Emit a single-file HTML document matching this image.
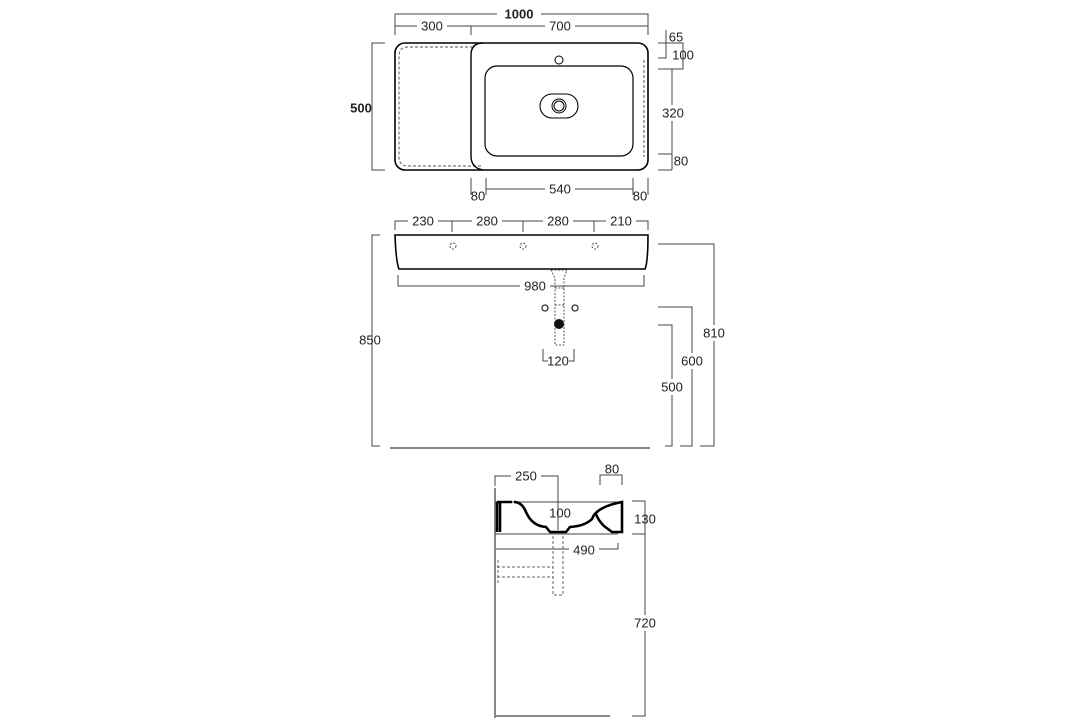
<!DOCTYPE html>
<html><head><meta charset="utf-8"><style>
html,body{margin:0;padding:0;background:#fff;}
svg{display:block;}
text{font-family:"Liberation Sans",sans-serif;font-size:13px;fill:#222;}
</style></head><body>
<svg width="1087" height="725" viewBox="0 0 1087 725" xmlns="http://www.w3.org/2000/svg">
<g fill="none" stroke="#444" stroke-width="1">
<path d="M395,26 V14 H648 V26"/>
<path d="M395,35 V26 H648 V35 M471,26 V35"/>
<path d="M385,43 H372 V170 H385"/>
<path d="M666,30 V58 H658 M658,43 H683 V69 H658"/>
<path d="M672,69 V170 M658,154 H672 M658,170 H672"/>
<path d="M471,178 V195 M486,178 V195 M633,178 V195 M648,178 V195 M486,189 H633"/>
<path d="M395,230 V221 H648 V230 M452,221 V232 M523,221 V232 M594,221 V232"/>
<path d="M398,275 V286 H644 V275"/>
<path d="M380,235 H372 V446 H380"/>
<path d="M658,244 H714 V446 H700"/>
<path d="M658,307 H692 V446 H680"/>
<path d="M658,325 H672 V446 H665"/>
<path d="M543,349 V361 H548 M574,349 V361 H569"/>
<path d="M495,486 V476 H558 V530"/>
<path d="M600,485 V475 H622 V485"/>
<path d="M632,501 H645 V534 H632"/>
<path d="M645,534 V716 H632"/>
<path d="M495,543 V549 H618 V543"/>
</g>
<rect x="395" y="43" width="253" height="127" rx="10" fill="none" stroke="#000" stroke-width="1.6"/>
<path d="M481,166 H408 Q399,166 399,157 V56 Q399,47 408,47 H472" fill="none" stroke="#555" stroke-width="1" stroke-dasharray="3,2"/>
<path d="M644,60 V157" fill="none" stroke="#555" stroke-width="1" stroke-dasharray="3,2"/>
<path d="M483,170 Q471,168 471,156 V55 Q471,43 483,43" fill="none" stroke="#000" stroke-width="1.4"/>
<rect x="485" y="66" width="148" height="90" rx="12" fill="none" stroke="#000" stroke-width="1.2"/>
<rect x="540" y="94" width="38" height="24" rx="12" fill="none" stroke="#000" stroke-width="1.1"/>
<circle cx="559" cy="106" r="7" fill="none" stroke="#000" stroke-width="1"/>
<circle cx="559" cy="106" r="5" fill="none" stroke="#000" stroke-width="1"/>
<circle cx="559" cy="60" r="4" fill="none" stroke="#000" stroke-width="1"/>
<path d="M395,235 H648 Q648,262 645,269 H399 Q396,262 395,235 Z" fill="none" stroke="#000" stroke-width="1.6"/>
<g fill="none" stroke="#555" stroke-width="1" stroke-dasharray="2,1.5">
<circle cx="453" cy="246" r="3"/><circle cx="523" cy="246" r="3"/><circle cx="595" cy="246" r="3"/>
<path d="M551,270 H567 L564,278 V345 H555 V278 Z M555,288 H564 M555,305 H564"/>
</g>
<circle cx="545" cy="308" r="3" fill="none" stroke="#333" stroke-width="1.3"/>
<circle cx="575" cy="308" r="3" fill="none" stroke="#333" stroke-width="1.3"/>
<circle cx="559" cy="324" r="5" fill="#111"/>
<line x1="390" y1="448" x2="650" y2="448" stroke="#888" stroke-width="2"/>
<line x1="495" y1="488" x2="495" y2="718" stroke="#888" stroke-width="2"/>
<line x1="495" y1="716" x2="610" y2="716" stroke="#888" stroke-width="2"/>
<path d="M495,502 H622" fill="none" stroke="#444" stroke-width="1"/>
<path d="M495,534 H618" fill="none" stroke="#444" stroke-width="1"/>
<path d="M497,502 V532 M500,502 V532 M497,502 H512 M514,502 Q522,502 526,512 Q532,526 546,527 L550,532 H566 L570,527 Q585,526 592,519 Q596,507 622,502 V532 H612 L604,526 Q598,520 596,514" fill="none" stroke="#000" stroke-width="2.6"/>
<g fill="none" stroke="#666" stroke-width="1" stroke-dasharray="3,2">
<path d="M553,536 V595 H563 V536"/>
<path d="M497,567 H553 M497,577 H553 M498,560 V585"/>
</g>
<g text-anchor="middle" dominant-baseline="central">
<rect x="497" y="6" width="44" height="15" fill="#fff"/>
<text x="519" y="14" style="font-weight:bold">1000</text>
<rect x="417" y="19" width="30" height="14" fill="#fff"/><text x="432" y="26">300</text>
<rect x="545" y="19" width="30" height="14" fill="#fff"/><text x="560" y="26">700</text>
<text x="361" y="108" style="font-weight:bold">500</text>
<text x="676" y="37">65</text>
<text x="683" y="55">100</text>
<rect x="659" y="105" width="28" height="16" fill="#fff"/><text x="673" y="113">320</text>
<text x="681" y="161">80</text>
<rect x="545" y="182" width="30" height="14" fill="#fff"/><text x="560" y="189">540</text>
<text x="478" y="196">80</text>
<text x="640" y="196">80</text>
<rect x="408" y="214" width="30" height="14" fill="#fff"/><text x="423" y="221">230</text>
<rect x="472" y="214" width="30" height="14" fill="#fff"/><text x="487" y="221">280</text>
<rect x="543" y="214" width="30" height="14" fill="#fff"/><text x="558" y="221">280</text>
<rect x="606" y="214" width="30" height="14" fill="#fff"/><text x="621" y="221">210</text>
<rect x="520" y="279" width="30" height="14" fill="#fff"/><text x="535" y="286">980</text>
<text x="370" y="340">850</text>
<rect x="701" y="325" width="28" height="16" fill="#fff"/><text x="714" y="333">810</text>
<rect x="679" y="353" width="28" height="16" fill="#fff"/><text x="692" y="361">600</text>
<rect x="659" y="379" width="28" height="16" fill="#fff"/><text x="672" y="387">500</text>
<text x="558" y="361">120</text>
<rect x="511" y="469" width="30" height="14" fill="#fff"/><text x="526" y="476">250</text>
<text x="612" y="469">80</text>
<text x="560" y="513">100</text>
<text x="645" y="519">130</text>
<rect x="569" y="542" width="30" height="14" fill="#fff"/><text x="584" y="550">490</text>
<rect x="631" y="615" width="28" height="16" fill="#fff"/><text x="645" y="623">720</text>
</g>
</svg>
</body></html>
